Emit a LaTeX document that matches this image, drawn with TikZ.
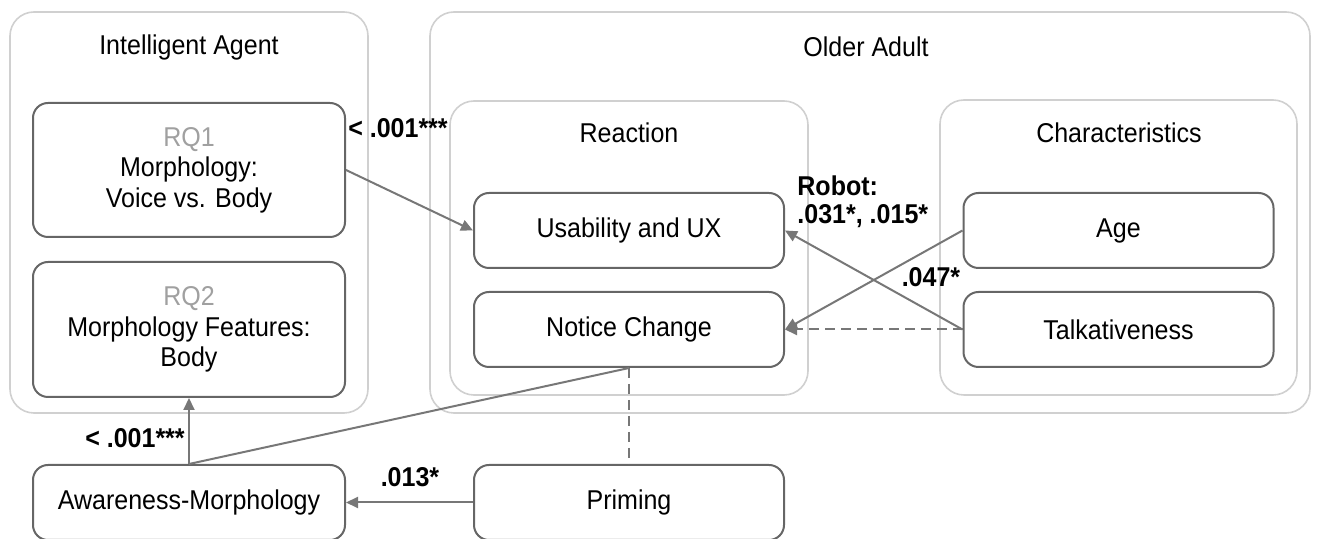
\documentclass[tikz,border=0pt]{standalone}
\usepackage{fontspec}
\setmainfont{Liberation Sans}[FakeStretch=0.92]
\usetikzlibrary{arrows.meta}
\definecolor{boxgray}{HTML}{666666}
\definecolor{framegray}{HTML}{D0D0D0}
\definecolor{arrgray}{HTML}{777777}
\definecolor{rqgray}{HTML}{A0A0A0}

\begin{document}
\begin{tikzpicture}[x=0.5pt,y=-0.5pt,font=\fontsize{13.6}{15.3}\selectfont]
    \tikzstyle{frame} = [draw=framegray,line width=.8pt,rounded corners=12pt,inner sep=0pt]
    \tikzstyle{box} = [draw=boxgray,line width=1pt,rounded corners=7.5pt,minimum width=155pt,align=center,inner sep=0pt]
    \tikzstyle{lbl} = [font=\fontsize{13.6}{14}\selectfont\bfseries,inner sep=1pt]
    \tikzstyle{Arr} = [draw=arrgray,line width=1pt,-{Triangle[length=6pt,width=5.5pt]}]
    \tikzstyle{Dash} = [draw=arrgray,line width=1pt,dash pattern=on 5pt off 3pt]
    \useasboundingbox (0,0) rectangle (1319,539);
    %%
    \node [frame,minimum width=179pt,minimum height=200.5pt] (agent) at (189,212.5) {};
    \node [frame,minimum width=440pt,minimum height=200.5pt] (older) at (870,212.5) {};
    \node [frame,minimum width=179pt,minimum height=147pt] (reaction) at (629,248) {};
    \node [frame,minimum width=178.5pt,minimum height=147.5pt] (charac) at (1118.5,247.5) {};
    \node (agenttitle) at (189,47) {Intelligent Agent};
    \node (oldertitle) at (866,47) {Older Adult};
    \node (reactiontitle) at (629,133) {Reaction};
    \node (charactitle) at (1119,133) {Characteristics};
    %%
    \node [box,minimum width=156pt,minimum height=67pt] (rq1) at (189,170) {\textcolor{rqgray}{RQ1}\\Morphology:\\Voice vs. Body};
    \node [box,minimum width=156pt,minimum height=67.5pt] (rq2) at (189,329.5) {\textcolor{rqgray}{RQ2}\\Morphology Features:\\Body};
    \node [box,minimum height=37.5pt] (usab) at (629,230.5) {Usability and UX};
    \node [box,minimum height=37.5pt] (notice) at (629,329.5) {Notice Change};
    \node [box,minimum height=37.5pt] (age) at (1118.5,230.5) {Age};
    \node [box,minimum height=37.5pt] (talk) at (1118.5,329.5) {Talkativeness};
    \node [box,minimum width=156pt,minimum height=37.5pt] (aware) at (189,502.5) {Awareness-Morphology};
    \node [box,minimum height=37.5pt] (priming) at (629,502.5) {Priming};
    %%
    \path [Arr] (rq1.east) -- (usab.west);
    \path [Arr] (age.west) -- (notice.east);
    \path [Arr] (talk.west) -- (usab.east);
    \path [Arr,dash pattern=on 5pt off 3pt] (talk.west) -- (notice.east);
    \path [Dash] (notice.south) -- (priming.north);
    \path [draw=arrgray,line width=1pt] (aware.north) -- (notice.south);
    \path [Arr] (aware.north) -- (rq2.south);
    \path [Arr] (priming.west) -- (aware.east);
    %%
    \node [lbl] (p1) at (398,128) {< .001***};
    \node [lbl,anchor=west,align=left] (p2) at (795,202) {Robot:\\.031*, .015*};
    \node [lbl] (p3) at (931,277) {.047*};
    \node [lbl] (p4) at (135,438) {< .001***};
    \node [lbl] (p5) at (410,477) {.013*};
\end{tikzpicture}
\end{document}
